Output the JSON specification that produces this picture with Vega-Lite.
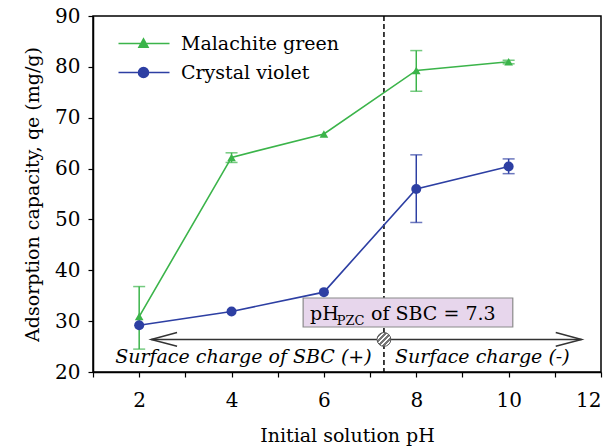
{
  "$schema": "https://vega.github.io/schema/vega-lite/v6.json",
  "width": 508,
  "height": 356,
  "autosize": {"type": "none"},
  "padding": {"left": 93, "top": 16, "right": 14, "bottom": 76},
  "background": "white",
  "config": {
    "font": "DejaVu Serif",
    "view": {"stroke": "black", "strokeWidth": 1.5},
    "axis": {
      "grid": false,
      "domainColor": "black",
      "domainWidth": 1.5,
      "tickColor": "black",
      "tickWidth": 1.2,
      "tickSize": 5,
      "labelFont": "DejaVu Serif",
      "labelFontSize": 20,
      "labelColor": "black",
      "titleFont": "DejaVu Serif",
      "titleFontSize": 19,
      "titleFontWeight": "normal",
      "titleColor": "black"
    }
  },
  "resolve": {"legend": {"color": "independent"}},
  "datasets": {
    "series": [
      {"pH": 2, "dye": "Malachite green", "qe": 30.9, "lo": 24.5, "hi": 36.8},
      {"pH": 4, "dye": "Malachite green", "qe": 62.2, "lo": 61.2, "hi": 63.1},
      {"pH": 6, "dye": "Malachite green", "qe": 66.8, "lo": null, "hi": null},
      {"pH": 8, "dye": "Malachite green", "qe": 79.3, "lo": 75.2, "hi": 83.2},
      {"pH": 10, "dye": "Malachite green", "qe": 81.0, "lo": 80.6, "hi": 81.3},
      {"pH": 2, "dye": "Crystal violet", "qe": 29.2, "lo": null, "hi": null},
      {"pH": 4, "dye": "Crystal violet", "qe": 31.9, "lo": null, "hi": null},
      {"pH": 6, "dye": "Crystal violet", "qe": 35.7, "lo": null, "hi": null},
      {"pH": 8, "dye": "Crystal violet", "qe": 56.0, "lo": 49.4, "hi": 62.7},
      {"pH": 10, "dye": "Crystal violet", "qe": 60.4, "lo": 59.0, "hi": 61.9}
    ],
    "pzc": [{"pH": 7.3, "y": 26.4}],
    "box": [{"x1": 5.55, "x2": 10.09, "y1": 28.85, "y2": 34.55}],
    "boxmain": [
      {"x": 5.70, "y": 30.23, "t": "pH"},
      {"x": 7.02, "y": 30.23, "t": "of SBC = 7.3"}
    ],
    "boxsub": [{"x": 6.28, "y": 29.25, "t": "PZC"}],
    "arrow": [
      {"seg": "shaft", "o": 1, "x": 2.26, "y": 26.4},
      {"seg": "shaft", "o": 2, "x": 11.58, "y": 26.4},
      {"seg": "left", "o": 1, "x": 2.82, "y": 27.75},
      {"seg": "left", "o": 2, "x": 2.26, "y": 26.4},
      {"seg": "left", "o": 3, "x": 2.82, "y": 25.05},
      {"seg": "right", "o": 1, "x": 11.02, "y": 27.75},
      {"seg": "right", "o": 2, "x": 11.58, "y": 26.4},
      {"seg": "right", "o": 3, "x": 11.02, "y": 25.05}
    ],
    "charge": [
      {"x": 1.48, "y": 21.8, "t": "Surface charge of SBC (+)"},
      {"x": 7.54, "y": 21.8, "t": "Surface charge (-)"}
    ]
  },
  "layer": [
    {
      "data": {"name": "pzc"},
      "mark": {"type": "rule", "color": "black", "strokeWidth": 1.5, "strokeDash": [5, 3]},
      "encoding": {
        "x": {"field": "pH", "type": "quantitative", "scale": {"domain": [1, 12], "nice": false, "zero": false},
          "axis": {"values": [1,2,3,4,5,6,7,8,9,10,11,12], "labelExpr": "datum.value % 2 == 0 ? datum.label : ''", "labelPadding": 13, "title": "Initial solution pH", "titlePadding": 16}}
      }
    },
    {
      "data": {"name": "box"},
      "mark": {"type": "rect", "fill": "#e7d6ec", "stroke": "#8a8a8a", "strokeWidth": 1.2},
      "encoding": {
        "x": {"field": "x1", "type": "quantitative"},
        "x2": {"field": "x2"},
        "y": {"field": "y1", "type": "quantitative", "scale": {"domain": [20, 90], "nice": false, "zero": false},
          "axis": {"values": [20,25,30,35,40,45,50,55,60,65,70,75,80,85,90], "labelExpr": "datum.value % 10 == 0 ? datum.label : ''", "labelPadding": 8, "title": "Adsorption capacity, qe (mg/g)", "titlePadding": 12}},
        "y2": {"field": "y2"}
      }
    },
    {
      "data": {"name": "boxmain"},
      "mark": {"type": "text", "align": "left", "baseline": "alphabetic", "fontSize": 19, "font": "DejaVu Serif", "color": "black"},
      "encoding": {
        "x": {"field": "x", "type": "quantitative"},
        "y": {"field": "y", "type": "quantitative"},
        "text": {"field": "t"}
      }
    },
    {
      "data": {"name": "boxsub"},
      "mark": {"type": "text", "align": "left", "baseline": "alphabetic", "fontSize": 13, "font": "DejaVu Serif", "color": "black"},
      "encoding": {
        "x": {"field": "x", "type": "quantitative"},
        "y": {"field": "y", "type": "quantitative"},
        "text": {"field": "t"}
      }
    },
    {
      "data": {"name": "arrow"},
      "mark": {"type": "line", "color": "#333333", "strokeWidth": 1.5},
      "encoding": {
        "x": {"field": "x", "type": "quantitative"},
        "y": {"field": "y", "type": "quantitative"},
        "detail": {"field": "seg"},
        "order": {"field": "o"}
      }
    },
    {
      "data": {"name": "pzc"},
      "mark": {"type": "point", "shape": "circle", "size": 190, "filled": true, "strokeWidth": 1,
        "stroke": "#555555", "opacity": 1,
        "fill": {"gradient": "linear", "x1": 0, "y1": 0, "x2": 1, "y2": 1,
          "stops": [
            {"offset": 0, "color": "#ffffff"}, {"offset": 0.12, "color": "#ffffff"},
            {"offset": 0.12, "color": "#777777"}, {"offset": 0.2, "color": "#777777"},
            {"offset": 0.2, "color": "#ffffff"}, {"offset": 0.3, "color": "#ffffff"},
            {"offset": 0.3, "color": "#777777"}, {"offset": 0.38, "color": "#777777"},
            {"offset": 0.38, "color": "#ffffff"}, {"offset": 0.48, "color": "#ffffff"},
            {"offset": 0.48, "color": "#777777"}, {"offset": 0.56, "color": "#777777"},
            {"offset": 0.56, "color": "#ffffff"}, {"offset": 0.66, "color": "#ffffff"},
            {"offset": 0.66, "color": "#777777"}, {"offset": 0.74, "color": "#777777"},
            {"offset": 0.74, "color": "#ffffff"}, {"offset": 0.84, "color": "#ffffff"},
            {"offset": 0.84, "color": "#777777"}, {"offset": 0.92, "color": "#777777"},
            {"offset": 0.92, "color": "#ffffff"}, {"offset": 1, "color": "#ffffff"}
          ]}},
      "encoding": {
        "x": {"field": "pH", "type": "quantitative"},
        "y": {"field": "y", "type": "quantitative"}
      }
    },
    {
      "data": {"name": "charge"},
      "mark": {"type": "text", "align": "left", "baseline": "alphabetic", "fontSize": 19, "fontStyle": "italic", "font": "DejaVu Serif", "color": "black"},
      "encoding": {
        "x": {"field": "x", "type": "quantitative"},
        "y": {"field": "y", "type": "quantitative"},
        "text": {"field": "t"}
      }
    },
    {
      "data": {"name": "series"},
      "transform": [{"filter": "datum.lo != null"}],
      "mark": {"type": "errorbar", "ticks": {"size": 12, "thickness": 1.5}, "rule": {"strokeWidth": 1.5}},
      "encoding": {
        "x": {"field": "pH", "type": "quantitative"},
        "y": {"field": "lo", "type": "quantitative", "title": "Adsorption capacity, qe (mg/g)"},
        "y2": {"field": "hi"},
        "color": {"field": "dye", "type": "nominal", "legend": null}
      }
    },
    {
      "data": {"name": "series"},
      "mark": {"type": "line", "strokeWidth": 1.6},
      "encoding": {
        "x": {"field": "pH", "type": "quantitative"},
        "y": {"field": "qe", "type": "quantitative"},
        "color": {
          "field": "dye", "type": "nominal",
          "scale": {"domain": ["Malachite green", "Crystal violet"], "range": ["#3bb44a", "#2d3fa3"]},
          "legend": {
            "title": null,
            "orient": "none",
            "legendX": 41,
            "legendY": 18,
            "padding": 0,
            "rowPadding": 9,
            "symbolSize": 100,
            "labelOffset": 28,
            "labelFont": "DejaVu Serif",
            "labelFontSize": 19,
            "labelColor": "black",
            "labelLimit": 300,
            "encode": {
              "symbols": {
                "update": {
                  "shape": {"signal": "datum.value === 'Malachite green' ? 'M-5,0H5.2M-0.9,0.75L0,-0.9L0.9,0.75Z' : 'M-5,0H5.2M1,0A1,1 0 1,1 -1,0A1,1 0 1,1 1,0Z'"},
                  "fill": {"scale": "color", "field": "value"},
                  "stroke": {"scale": "color", "field": "value"},
                  "strokeWidth": {"value": 1.6},
                  "opacity": {"value": 1},
                  "fillOpacity": {"value": 1}
                }
              }
            }
          }
        }
      }
    },
    {
      "data": {"name": "series"},
      "mark": {"type": "point", "filled": true, "opacity": 1},
      "encoding": {
        "x": {"field": "pH", "type": "quantitative"},
        "y": {"field": "qe", "type": "quantitative"},
        "color": {"field": "dye", "type": "nominal", "legend": null},
        "shape": {"field": "dye", "type": "nominal", "scale": {"domain": ["Malachite green", "Crystal violet"], "range": ["triangle-up", "circle"]}, "legend": null},
        "size": {"field": "dye", "type": "nominal", "scale": {"domain": ["Malachite green", "Crystal violet"], "range": [75, 100]}, "legend": null}
      }
    }
  ]
}
